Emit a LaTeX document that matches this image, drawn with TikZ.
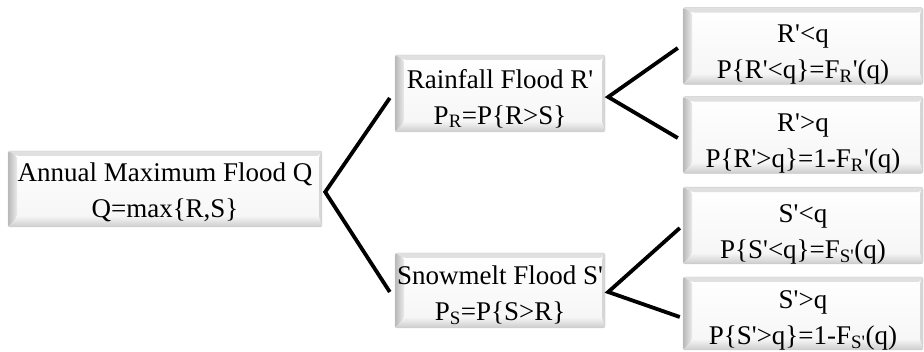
\documentclass[tikz,border=0pt]{standalone}
\usepackage{fontspec}
\setmainfont{Liberation Serif}
\usetikzlibrary{calc}
\newcommand{\pq}{\textquotesingle}
\newcommand{\lift}[1]{\rule{0pt}{#1}}
\tikzset{
  bevelbox/.style={draw=black!20, top color=white, bottom color=black!4, rounded corners=2pt,
    inner sep=0pt, align=center, font=\fontsize{27}{36}\selectfont,
    path picture={
      \fill[black!12] (path picture bounding box.north west) -- (path picture bounding box.north east)
        -- ($(path picture bounding box.north east)+(-3pt,-5pt)$) -- ($(path picture bounding box.north west)+(9pt,-5pt)$) -- cycle;
      \fill[black!16] (path picture bounding box.north east) -- (path picture bounding box.south east)
        -- ($(path picture bounding box.south east)+(-3pt,10pt)$) -- ($(path picture bounding box.north east)+(-3pt,-5pt)$) -- cycle;
      \shade[top color=black!5, bottom color=black!20] (path picture bounding box.south west) -- (path picture bounding box.south east)
        -- ($(path picture bounding box.south east)+(-3pt,10pt)$) -- ($(path picture bounding box.south west)+(9pt,10pt)$) -- cycle;
      \shade[left color=black!28, right color=black!8] (path picture bounding box.south west) -- (path picture bounding box.north west)
        -- ($(path picture bounding box.north west)+(9pt,-5pt)$) -- ($(path picture bounding box.south west)+(9pt,10pt)$) -- cycle;
    }},
  link/.style={line width=3.8pt, black},
}
\begin{document}
\begin{tikzpicture}[x=1pt,y=-1pt]
\useasboundingbox (0,0) rectangle (924,352);
\node[bevelbox, minimum width=314pt, minimum height=76pt] (annual) at (165,189)
  {\lift{25pt}Annual Maximum Flood Q\\Q=max\{R,S\}};
\node[bevelbox, minimum width=210pt, minimum height=77pt] (rain) at (500,93.5)
  {\lift{29pt}Rainfall Flood R\pq\\P\textsubscript{R}=P\{R>S\}};
\node[bevelbox, minimum width=210pt, minimum height=75pt] (snow) at (500,290.5)
  {\lift{28pt}Snowmelt Flood S\pq\\P\textsubscript{S}=P\{S>R\}};
\node[bevelbox, minimum width=240pt, minimum height=74pt] (r1) at (803,46)
  {\lift{35pt}R\pq<q\\P\{R\pq<q\}=F\textsubscript{R}\pq(q)};
\node[bevelbox, minimum width=240pt, minimum height=76pt] (r2) at (803,135)
  {\lift{35pt}R\pq>q\\P\{R\pq>q\}=1-F\textsubscript{R}\pq(q)};
\node[bevelbox, minimum width=240pt, minimum height=75pt] (s1) at (803,225.5)
  {\lift{35pt}S\pq<q\\P\{S\pq<q\}=F\textsubscript{S\pq}(q)};
\node[bevelbox, minimum width=240pt, minimum height=73pt] (s2) at (803,313.5)
  {\lift{31pt}S\pq>q\\P\{S\pq>q\}=1-F\textsubscript{S\pq}(q)};
\coordinate (v1) at ([xshift=3pt,yshift=-3pt]annual.east);
\coordinate (v2) at ([xshift=3pt,yshift=-3.5pt]rain.east);
\coordinate (v3) at ([xshift=3pt,yshift=-1.5pt]snow.east);
\draw[link] ([xshift=-5pt,yshift=-4.5pt]rain.west) -- (v1) -- ([xshift=-5pt,yshift=-1.5pt]snow.west);
\draw[link] ([xshift=-5pt,yshift=-2pt]r1.west) -- (v2) -- ([xshift=-5pt,yshift=-3pt]r2.west);
\draw[link] ([xshift=-3pt,yshift=-2.5pt]s1.west) -- (v3) -- ([xshift=-3pt,yshift=-3.5pt]s2.west);
\end{tikzpicture}
\end{document}
